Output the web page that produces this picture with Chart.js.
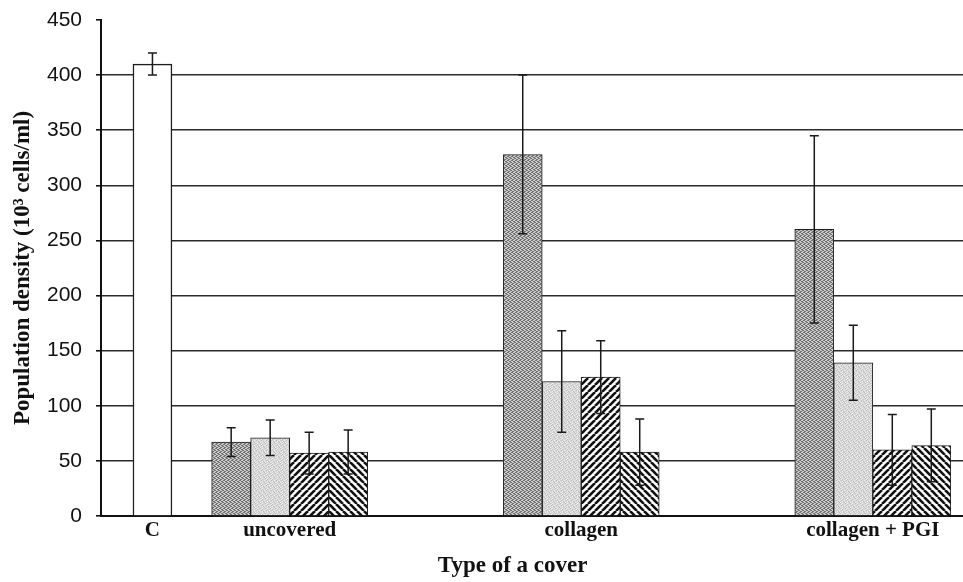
<!DOCTYPE html>
<html>
<head>
<meta charset="utf-8">
<title>Population density by type of cover</title>
<script src="https://cdn.jsdelivr.net/npm/chart.js@4.4.1/dist/chart.umd.min.js"></script>
<style>
    html, body { margin: 0; padding: 0; background: #fff; overflow: hidden; }
    .wrap { position: relative; width: 980px; height: 582px; }
</style>
</head>
<body>
<div class="wrap"><canvas id="coverChart"></canvas></div>
<script>
// --- DATA ---
const covers = ['C', 'uncovered', 'collagen', 'collagen + PGI'];
const controlMean = [410, null, null, null];
const controlSd   = [10, null, null, null];
const seriesA   = [null, 67, 328, 260];   // dark dotted
const seriesAsd = [null, 13, 72, 85];
const seriesB   = [null, 71, 122, 139];   // light dotted
const seriesBsd = [null, 16, 46, 34];
const seriesC   = [null, 57, 126, 60];    // hatched /
const seriesCsd = [null, 19, 33, 32];
const seriesD   = [null, 58, 58, 64];     // hatched \
const seriesDsd = [null, 20, 30, 33];

// --- LAYOUT (slots on the category axis, the groups are not evenly spaced) ---
const slotCount = 52;
const coverSlot = [3, 11, 28, 45];

function spread(values) {
    const out = new Array(slotCount).fill(null);
    values.forEach((v, i) => { out[coverSlot[i]] = v; });
    return out;
}
const slotLabels = spread(covers).map(l => l || '');

// --- PATTERNS ---
const mainCtx = document.getElementById('coverChart').getContext('2d');

function makeTile(w, h, draw) {
    const c = document.createElement('canvas');
    c.width = w; c.height = h;
    draw(c.getContext('2d'));
    return mainCtx.createPattern(c, 'repeat');
}

function pixelTile(rows, palette) {
    return makeTile(rows[0].length, rows.length, g => {
        rows.forEach((row, y) => {
            [...row].forEach((ch, x) => {
                g.fillStyle = palette[ch];
                g.fillRect(x, y, 1, 1);
            });
        });
    });
}

function hatch(dir) {
    const s = 7;
    return makeTile(s, s, g => {
        g.fillStyle = '#fff';
        g.fillRect(0, 0, s, s);
        g.strokeStyle = '#111';
        g.lineWidth = 2.6;
        [-s, 0, s].forEach(k => {
            g.beginPath();
            if (dir > 0) { g.moveTo(k, s); g.lineTo(k + s, 0); }
            else { g.moveTo(k, 0); g.lineTo(k + s, s); }
            g.stroke();
        });
    });
}

const darkDots = pixelTile(
    ['DLLD', 'LDDL', 'LLDD', 'DDLL'],
    { D: '#727272', L: '#cbcbcb' }
);
const lightDots = pixelTile(
    ['MLMMH', 'MMHLM', 'HMMML', 'LMHMM', 'MHLMM'],
    { M: '#d8d8d8', L: '#bdbdbd', H: '#efefef' }
);

// --- ERROR BARS ---
const errorBars = {
    id: 'errorBars',
    afterDatasetsDraw(chart) {
        const ctx = chart.ctx;
        const yScale = chart.scales.y;
        ctx.save();
        ctx.strokeStyle = '#1a1a1a';
        ctx.lineWidth = 1.5;
        chart.data.datasets.forEach((ds, di) => {
            const meta = chart.getDatasetMeta(di);
            meta.data.forEach((bar, i) => {
                const v = ds.data[i], e = ds.sd[i];
                if (v == null || e == null) return;
                const top = yScale.getPixelForValue(v + e);
                const bottom = yScale.getPixelForValue(v - e);
                ctx.beginPath();
                ctx.moveTo(bar.x, top); ctx.lineTo(bar.x, bottom);
                ctx.moveTo(bar.x - 4.5, top); ctx.lineTo(bar.x + 4.5, top);
                ctx.moveTo(bar.x - 4.5, bottom); ctx.lineTo(bar.x + 4.5, bottom);
                ctx.stroke();
            });
        });
        ctx.restore();
    }
};

// x title sits between the first and last category label
const coverTitle = {
    id: 'coverTitle',
    afterDraw(chart) {
        const x = chart.scales.x;
        const ctx = chart.ctx;
        const cx = (x.getPixelForValue(coverSlot[0]) + x.getPixelForValue(coverSlot[coverSlot.length - 1])) / 2;
        ctx.save();
        ctx.font = 'bold 23px "Liberation Serif", "Times New Roman", serif';
        ctx.fillStyle = '#111';
        ctx.textAlign = 'center';
        ctx.textBaseline = 'middle';
        ctx.fillText('Type of a cover', cx, chart.chartArea.bottom + 50);
        ctx.restore();
    }
};

// --- CHART ---
function bars(label, values, sd, fill, borderWidth) {
    return {
        label: label,
        data: spread(values),
        sd: spread(sd),
        backgroundColor: fill,
        borderColor: '#1e1e1e',
        borderWidth: borderWidth
    };
}

new Chart(mainCtx, {
    type: 'bar',
    data: {
        labels: slotLabels,
        datasets: [
            bars('C', controlMean, controlSd, '#ffffff', 1.5),
            bars('A', seriesA, seriesAsd, darkDots, 1),
            bars('B', seriesB, seriesBsd, lightDots, 1),
            bars('C2', seriesC, seriesCsd, hatch(1), 1),
            bars('D', seriesD, seriesDsd, hatch(-1), 1)
        ]
    },
    options: {
        responsive: true,
        maintainAspectRatio: false,
        animation: false,
        layout: { padding: { top: 20, right: 4.3, bottom: 0, left: 0 } },
        datasets: { bar: { barThickness: 39, skipNull: true } },
        plugins: {
            legend: { display: false },
            tooltip: { enabled: false }
        },
        scales: {
            x: {
                offset: false,
                grid: {
                    drawOnChartArea: false,
                    tickLength: 7,
                    lineWidth: 2,
                    color: (c) => c.index === 0 ? '#111' : 'rgba(0,0,0,0)'
                },
                border: { color: '#111', width: 2 },
                ticks: {
                    autoSkip: false,
                    maxRotation: 0,
                    minRotation: 0,
                    padding: -5,
                    color: '#111',
                    font: { family: '"Liberation Serif", "Times New Roman", serif', size: 21, weight: 'bold' }
                },
                afterFit: (scale) => { scale.height = 66; }
            },
            y: {
                min: 0,
                max: 450,
                ticks: {
                    stepSize: 50,
                    padding: 14,
                    color: '#111',
                    font: { family: '"Liberation Sans", Arial, sans-serif', size: 21 }
                },
                grid: {
                    tickLength: 5,
                    lineWidth: 1.6,
                    color: (c) => c.tick && c.tick.value === 450 ? 'rgba(0,0,0,0)' : '#2b2b2b',
                    tickColor: '#111'
                },
                border: { color: '#111', width: 2 },
                title: {
                    display: true,
                    text: 'Population density (10³ cells/ml)',
                    color: '#111',
                    padding: { top: 9, bottom: 0 },
                    font: { family: '"Liberation Serif", "Times New Roman", serif', size: 23, weight: 'bold' }
                },
                afterFit: (scale) => {
                    scale.width = 101;
                    scale.paddingTop = 0;
                    scale.paddingBottom = 0;
                }
            }
        }
    },
    plugins: [errorBars, coverTitle]
});
</script>
</body>
</html>
